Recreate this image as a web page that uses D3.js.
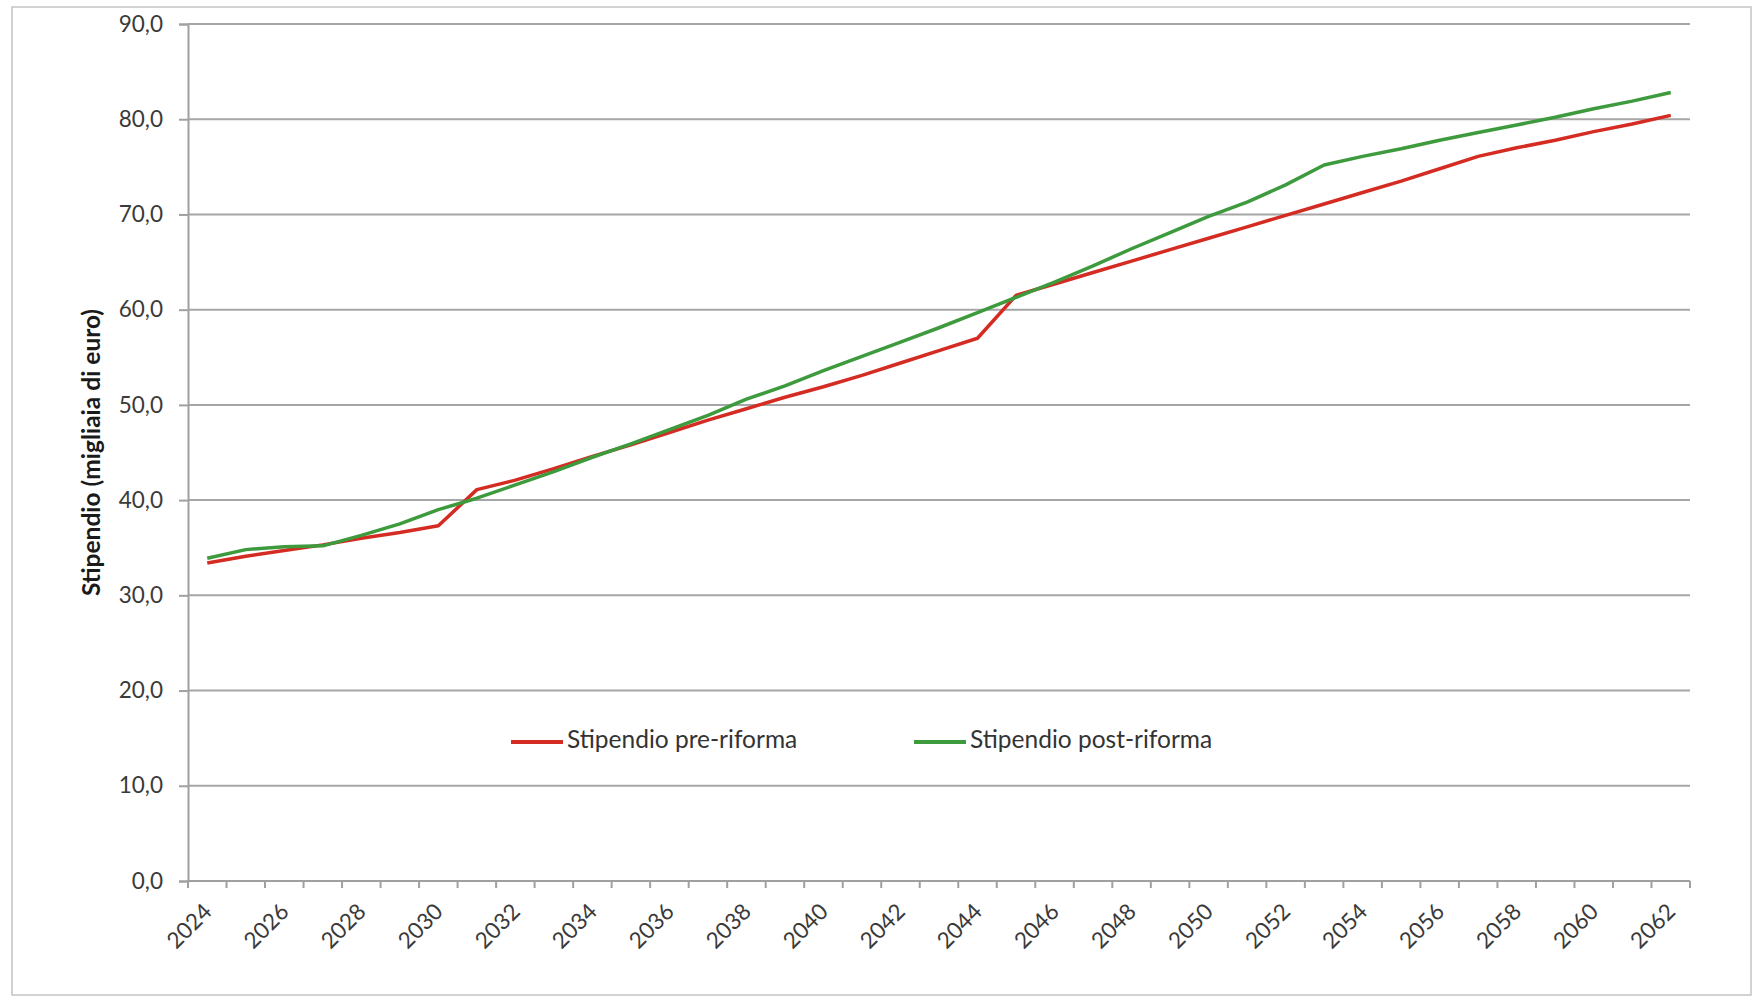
<!DOCTYPE html>
<html>
<head>
<meta charset="utf-8">
<script src="https://cdn.jsdelivr.net/npm/d3@7"></script>
<style>
  html, body { margin: 0; padding: 0; background: #fff; }
  svg { display: block; font-family: Lato, "Open Sans", sans-serif; }
</style>
</head>
<body>
<svg id="chart" width="1754" height="996"></svg>
<script>
const years = d3.range(2024, 2063);
const tickYears = years.filter(y => (y - 2024) % 2 === 0);
const yTicks = [0, 10, 20, 30, 40, 50, 60, 70, 80, 90];

const preRiforma = [
  33.4, 34.1, 34.7, 35.3, 36.0, 36.6, 37.3, 41.1, 42.1, 43.3,
  44.6, 45.8, 47.1, 48.4, 49.6, 50.8, 51.9, 53.1, 54.4, 55.7,
  57.0, 61.5, 62.7, 63.9, 65.1, 66.3, 67.5, 68.7, 69.9, 71.1,
  72.3, 73.5, 74.8, 76.1, 77.0, 77.8, 78.7, 79.5, 80.4
];
const postRiforma = [
  33.9, 34.8, 35.1, 35.2, 36.3, 37.5, 39.0, 40.2, 41.6, 43.0,
  44.5, 45.9, 47.4, 48.9, 50.6, 52.0, 53.6, 55.1, 56.6, 58.1,
  59.7, 61.3, 62.9, 64.6, 66.4, 68.1, 69.8, 71.3, 73.1, 75.2,
  76.1, 76.9, 77.8, 78.6, 79.4, 80.2, 81.1, 81.9, 82.8
];
const seriesNames = ["Stipendio pre-riforma", "Stipendio post-riforma"];
const seriesColors = ["#d42b22", "#3d9a3d"];
const yTitle = "Stipendio (migliaia di euro)";

const svg = d3.select("#chart");
const plot = { left: 188, right: 1690, top: 24, bottom: 881 };

// outer frame
svg.append("rect")
  .attr("x", 12).attr("y", 7).attr("width", 1739).attr("height", 988)
  .attr("fill", "none").attr("stroke", "#c4c4c4").attr("stroke-width", 1.5);

const x = d3.scaleBand().domain(years).range([plot.left, plot.right]).padding(0);
const y = d3.scaleLinear().domain([0, 90]).range([plot.bottom, plot.top]);
const cx = d => x(d) + x.bandwidth() / 2;

const itLocale = d3.formatLocale({ decimal: ",", thousands: ".", grouping: [3], currency: ["€", ""] });
const fmt = itLocale.format(".1f");

// gridlines
svg.append("g")
  .selectAll("line").data(yTicks.filter(t => t > 0)).join("line")
  .attr("x1", plot.left).attr("x2", plot.right)
  .attr("y1", d => y(d)).attr("y2", d => y(d))
  .attr("stroke", "#a6a6a6").attr("stroke-width", 2);

// y axis
const yAxis = svg.append("g")
  .attr("transform", `translate(${plot.left},0)`)
  .call(d3.axisLeft(y).tickValues(yTicks).tickFormat(fmt).tickSize(9).tickPadding(16));
yAxis.select(".domain").attr("stroke", "#a0a0a0").attr("stroke-width", 2);
yAxis.selectAll(".tick line").attr("stroke", "#a0a0a0").attr("stroke-width", 2);
yAxis.selectAll(".tick text")
  .attr("font-size", 22.5).attr("fill", "#3a3a3a")
  .attr("font-family", "Lato, 'Open Sans', sans-serif");

// x axis line + boundary tick marks
const boundaries = years.map(d => x(d)).concat([x(years[years.length - 1]) + x.bandwidth()]);
const xg = svg.append("g");
xg.append("line")
  .attr("x1", plot.left).attr("x2", plot.right)
  .attr("y1", y(0)).attr("y2", y(0))
  .attr("stroke", "#a0a0a0").attr("stroke-width", 2);
xg.selectAll("line.tk").data(boundaries).join("line").attr("class", "tk")
  .attr("x1", d => d).attr("x2", d => d)
  .attr("y1", y(0)).attr("y2", y(0) + 7)
  .attr("stroke", "#a0a0a0").attr("stroke-width", 2);

// x tick labels
xg.selectAll("text").data(tickYears).join("text")
  .attr("transform", d => `translate(${cx(d) + 6},${y(0) + 32}) rotate(-45)`)
  .attr("text-anchor", "end")
  .attr("font-size", 22.5).attr("fill", "#3a3a3a")
  .text(d => d);

// y title
svg.append("text")
  .attr("transform", `translate(94,${(plot.top + plot.bottom) / 2}) rotate(-90)`)
  .attr("text-anchor", "middle").attr("dominant-baseline", "middle")
  .attr("font-size", 24.5).attr("font-weight", "bold").attr("fill", "#1a1a1a")
  .text(yTitle);

// lines
const line = d3.line().x((d, i) => cx(years[i])).y(d => y(d));
[preRiforma, postRiforma].forEach((s, k) => {
  svg.append("path").datum(s)
    .attr("d", line)
    .attr("fill", "none")
    .attr("stroke", seriesColors[k])
    .attr("stroke-width", 3.5)
    .attr("stroke-linejoin", "round");
});

// legend
const legendX = [511, 914];
const legendY = 742;
const lg = svg.append("g");
seriesNames.forEach((name, k) => {
  lg.append("line")
    .attr("x1", legendX[k]).attr("x2", legendX[k] + 52)
    .attr("y1", legendY).attr("y2", legendY)
    .attr("stroke", seriesColors[k]).attr("stroke-width", 4);
  lg.append("text")
    .attr("x", legendX[k] + 56).attr("y", legendY)
    .attr("dominant-baseline", "middle")
    .attr("font-size", 24.5).attr("fill", "#333")
    .text(name);
});
</script>
</body>
</html>
